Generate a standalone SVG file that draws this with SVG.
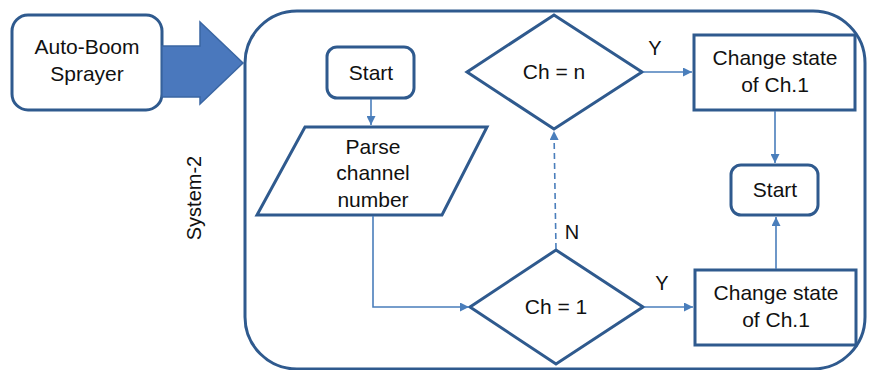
<svg xmlns="http://www.w3.org/2000/svg" width="869" height="370" viewBox="0 0 869 370">
<defs>
<marker id="ah" viewBox="0 0 10 10" refX="10" refY="5" markerWidth="9" markerHeight="9" markerUnits="userSpaceOnUse" orient="auto"><path d="M0,0 L10,5 L0,10 z" fill="#4A7EBB"/></marker>
<style>
.node{fill:#fff;stroke:#2F5A8E;stroke-width:3}
.conn{fill:none;stroke:#4A7EBB;stroke-width:1.6}
.dash{stroke-dasharray:6,4}
text{font-family:"Liberation Sans",Arial,sans-serif;font-size:21px;fill:#111;text-anchor:middle}
.lbl{font-size:20px}
</style>
</defs>
<rect width="869" height="370" fill="#fff"/>
<g id="auto-boom">
<rect class="node" x="12" y="15" width="150" height="95" rx="16"/>
<text x="87" y="54">Auto-Boom</text>
<text x="87" y="81">Sprayer</text>
</g>
<g id="big-arrow">
<path d="M162,46 L200,46 L200,22 L243,63 L200,104 L200,97 L162,97 Z" fill="#4A78BD" stroke="#3A66A3" stroke-width="1.5"/>
</g>
<g id="system-2">
<rect x="245" y="11" width="620" height="358" rx="52" fill="none" stroke="#2F5A8E" stroke-width="3"/>
<text class="lbl" transform="translate(201,198) rotate(-90)">System-2</text>
</g>
<g id="start1">
<rect class="node" x="327" y="47" width="87" height="51" rx="10"/>
<text x="371" y="80">Start</text>
</g>
<g id="parse">
<polygon class="node" points="305,127 487,127 442,215 257,215"/>
<text x="373" y="154">Parse</text>
<text x="373" y="180">channel</text>
<text x="373" y="207">number</text>
</g>
<g id="ch1">
<polygon class="node" points="470,307 556,250 643,307 556,364"/>
<text x="556" y="314">Ch = 1</text>
</g>
<g id="chn">
<polygon class="node" points="467,72 554,15 642,72 554,129"/>
<text x="554" y="79">Ch = n</text>
</g>
<g id="change-top">
<rect class="node" x="694" y="35" width="161" height="75"/>
<text x="775" y="65">Change state</text>
<text x="775" y="92">of Ch.1</text>
</g>
<g id="start2">
<rect class="node" x="731" y="165" width="87" height="50" rx="10"/>
<text x="775" y="197">Start</text>
</g>
<g id="change-bottom">
<rect class="node" x="695" y="270" width="161" height="75"/>
<text x="776" y="300">Change state</text>
<text x="776" y="327">of Ch.1</text>
</g>
<g id="connectors">
<line class="conn" x1="371" y1="99" x2="371" y2="125" marker-end="url(#ah)"/>
<polyline class="conn" points="373,216 373,307 469,307" marker-end="url(#ah)"/>
<line class="conn dash" x1="556" y1="249" x2="554" y2="131" marker-end="url(#ah)"/>
<line class="conn" x1="643" y1="72" x2="692" y2="72" marker-end="url(#ah)"/>
<line class="conn" x1="775" y1="111" x2="775" y2="163" marker-end="url(#ah)"/>
<line class="conn" x1="644" y1="307" x2="693" y2="307" marker-end="url(#ah)"/>
<line class="conn" x1="776" y1="269" x2="776" y2="217" marker-end="url(#ah)"/>
<text class="lbl" x="655" y="55">Y</text>
<text class="lbl" x="572" y="239">N</text>
<text class="lbl" x="662" y="290">Y</text>
</g>
</svg>
